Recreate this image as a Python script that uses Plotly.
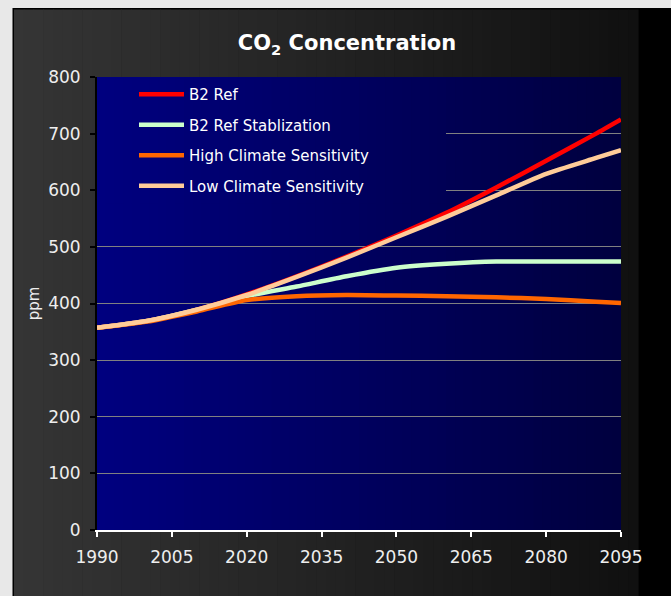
import plotly.graph_objects as go

# Scenario data (ppm)
years = [1990, 2000, 2010, 2020, 2030, 2040, 2050, 2060, 2070, 2080, 2090, 2095]
b2_ref = [357, 369, 389, 416, 448, 483, 520, 560, 605, 652, 700, 725]
b2_ref_stab = [357, 369, 389, 413, 430, 448, 463, 470, 474, 474, 474, 474]
high_sens = [357, 368, 386, 406, 413, 415, 414, 413, 411, 408, 403, 401]
low_sens = [357, 369, 389, 415, 447, 481, 517, 553, 591, 629, 657, 671]

series_names = ["B2 Ref", "B2 Ref Stablization", "High Climate Sensitivity", "Low Climate Sensitivity"]
series_values = [b2_ref, b2_ref_stab, high_sens, low_sens]
series_colors = ["#ff0000", "#ccffcc", "#ff6600", "#ffcc99"]

x_ticks = [1990, 2005, 2020, 2035, 2050, 2065, 2080, 2095]
y_ticks = [0, 100, 200, 300, 400, 500, 600, 700, 800]

FONT = "DejaVu Sans"
W_PX, H_PX = 671, 596
PL, PR, PT, PB = 97, 621, 77, 530


def px_x(px):
    return (px - PL) / (PR - PL)


def px_y(py):
    return (PB - py) / (PB - PT)


def lerp(a, b, t):
    return a + (b - a) * t


fig = go.Figure()
for name, vals, col in zip(series_names, series_values, series_colors):
    fig.add_trace(go.Scatter(
        x=years, y=vals, name=name, mode="lines",
        line=dict(color=col, width=4.5, shape="spline", smoothing=0.6),
        legendgroup=name,
    ))

shapes = []
# page margin and frame border
shapes.append(dict(type="rect", xref="paper", yref="paper", layer="below",
                   x0=px_x(0), x1=px_x(W_PX), y0=px_y(8), y1=px_y(-2),
                   fillcolor="#e8e8e8", line=dict(width=0)))
shapes.append(dict(type="rect", xref="paper", yref="paper", layer="below",
                   x0=px_x(-2), x1=px_x(12.5), y0=px_y(W_PX), y1=px_y(8),
                   fillcolor="#e8e8e8", line=dict(width=0)))

# frame gradient (dark gray to near black)
n_frame = 64
fx0, fx1 = 14, 638
for i in range(n_frame):
    t = (i + 0.5) / n_frame
    v = int(round(lerp(0x35, 0x10, t)))
    shapes.append(dict(type="rect", xref="paper", yref="paper", layer="below",
                       x0=px_x(fx0 + (fx1 - fx0) * i / n_frame),
                       x1=px_x(fx0 + (fx1 - fx0) * (i + 1) / n_frame + 0.6),
                       y0=px_y(W_PX), y1=px_y(9.5),
                       fillcolor=f"rgb({v},{v},{v})", line=dict(width=0)))

# plot area gradient (navy to dark blue)
n_plot = 60
legend_cover_x = px_x(446)
legend_cover_y = 0.72
for i in range(n_plot):
    t = (i + 0.5) / n_plot
    b = int(round(lerp(128, 62, t)))
    xa, xb = i / n_plot, (i + 1) / n_plot
    col = f"rgb(0,0,{b})"
    shapes.append(dict(type="rect", xref="x domain", yref="y domain", layer="below",
                       x0=xa, x1=min(1, xb + 0.002), y0=0, y1=1,
                       fillcolor=col, line=dict(width=0)))
    # opaque backing behind the legend box
    if xa < legend_cover_x:
        shapes.append(dict(type="rect", xref="x domain", yref="y domain", layer="above",
                           x0=xa, x1=min(legend_cover_x, xb + 0.002),
                           y0=legend_cover_y, y1=0.997,
                           fillcolor=col, line=dict(width=0)))

fig.update_layout(
    width=W_PX, height=H_PX,
    margin=dict(l=PL, r=W_PX - PR, t=PT, b=H_PX - PB),
    paper_bgcolor="#000000",
    plot_bgcolor="rgba(0,0,0,0)",
    shapes=shapes,
    title=dict(text="<b>CO<sub>2</sub> Concentration</b>",
               font=dict(family=FONT, size=21, color="#ffffff"),
               x=347 / W_PX, xanchor="center", y=1 - 43 / H_PX, yanchor="middle"),
    font=dict(family=FONT, size=15, color="#eeeeee"),
    showlegend=True,
    legend=dict(x=px_x(134), y=px_y(78), xanchor="left", yanchor="top",
                bgcolor="rgba(0,0,0,0)", borderwidth=0,
                font=dict(family=FONT, size=15, color="#ffffff"),
                tracegroupgap=8, itemwidth=45),
    xaxis=dict(range=[1990, 2095], tickvals=x_ticks, ticktext=[str(v) for v in x_ticks],
               showgrid=False, zeroline=False,
               showline=True, linecolor="#ffffff", linewidth=1.5,
               ticks="outside", ticklen=5, tickcolor="#ffffff", tickwidth=1.5,
               ticklabelstandoff=6,
               tickfont=dict(family=FONT, size=17, color="#eeeeee")),
    yaxis=dict(range=[0, 800], tickvals=y_ticks,
               showgrid=True, gridcolor="#808080", gridwidth=1, zeroline=False,
               showline=True, linecolor="#000000", linewidth=2,
               ticks="outside", ticklen=5, tickcolor="#000000", tickwidth=1.5,
               ticklabelstandoff=6,
               tickfont=dict(family=FONT, size=17, color="#eeeeee"),
               title=dict(text="ppm", standoff=5,
                          font=dict(family=FONT, size=15, color="#eeeeee"))),
)

fig.write_html("out.html")
